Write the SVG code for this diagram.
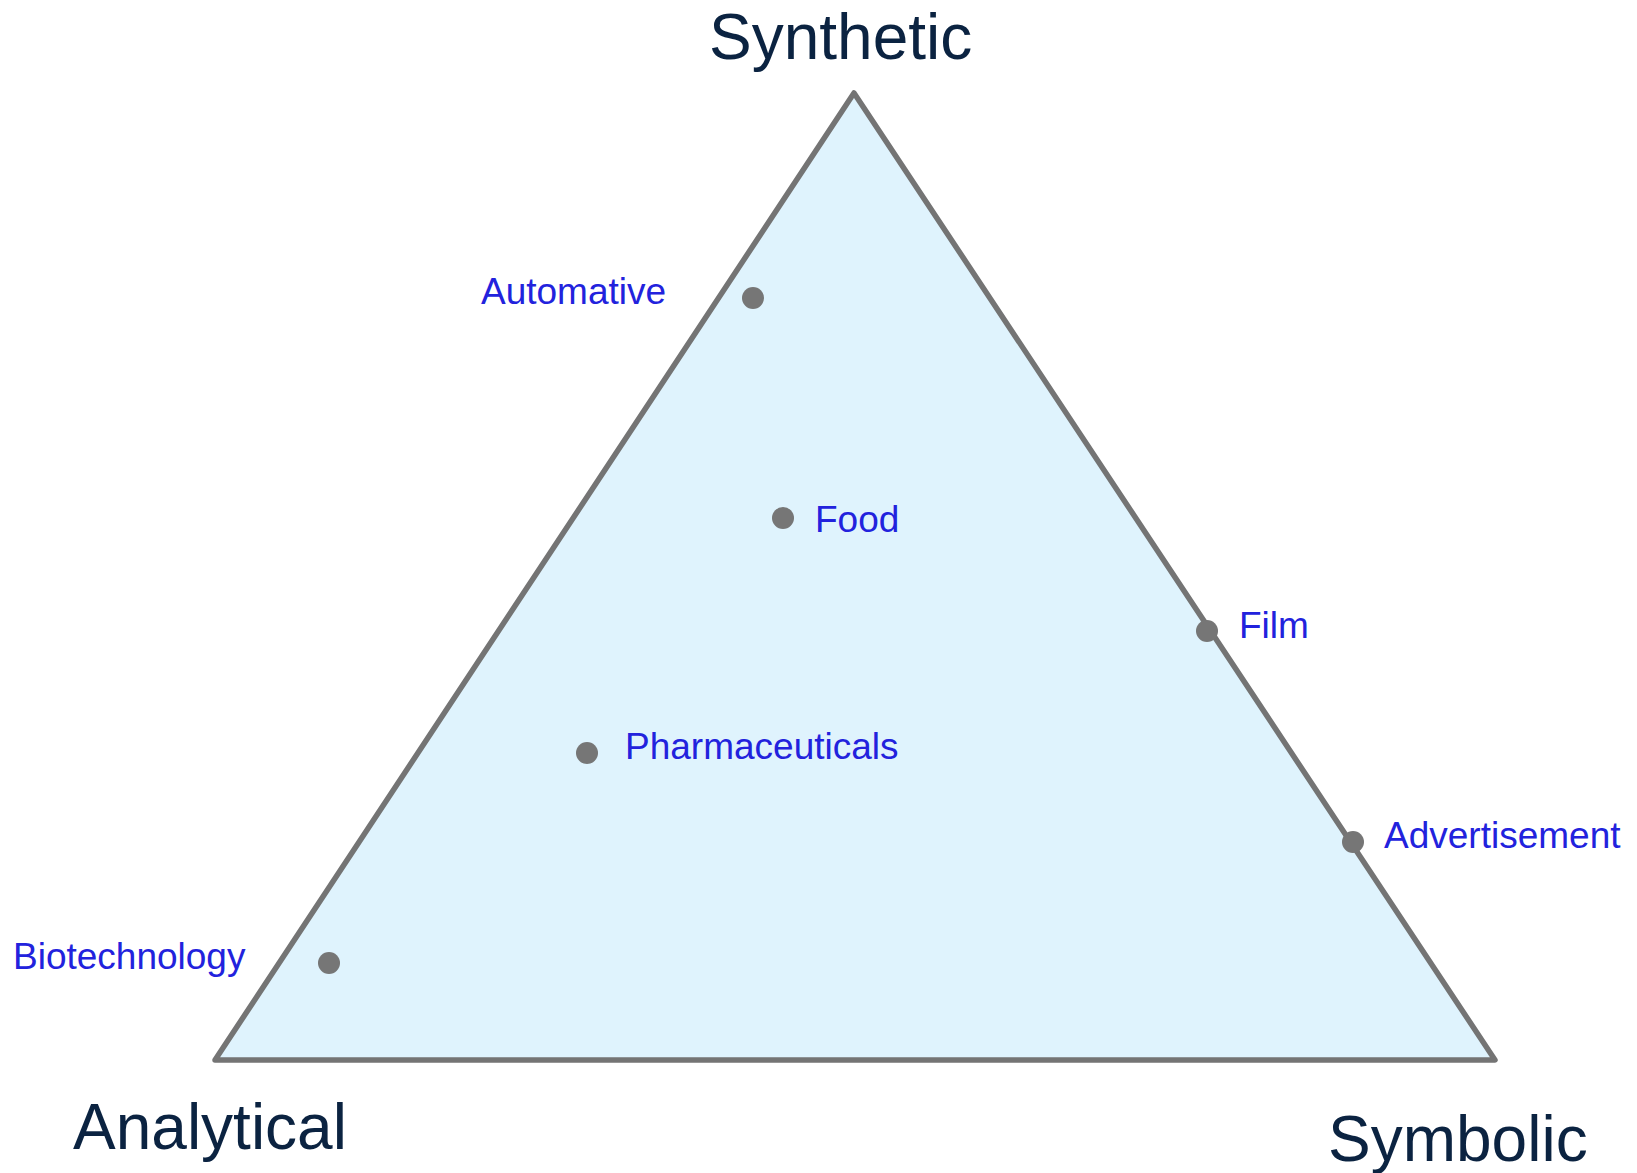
<svg xmlns="http://www.w3.org/2000/svg" width="1637" height="1173" viewBox="0 0 1637 1173">
<style>
.axis{font-family:"Liberation Sans",Arial,sans-serif;font-size:64px;fill:#0b2341}
.lbl{font-family:"Liberation Sans",Arial,sans-serif;font-size:37px;fill:#2222dd}
.dot{fill:#767676}
</style>
<rect width="1637" height="1173" fill="#ffffff"/>
<g id="connectors">
<polygon id="triangle" points="854,93 1495,1060 215,1060" fill="#dff3fd" stroke="#747474" stroke-width="5.5" stroke-linejoin="round"/>
</g>
<g id="synthetic"><text class="axis" x="709" y="59">Synthetic</text></g>
<g id="analytical"><text class="axis" x="73" y="1149">Analytical</text></g>
<g id="symbolic"><text class="axis" x="1328" y="1161">Symbolic</text></g>
<g id="automative"><circle class="dot" cx="753" cy="298" r="11"/><text class="lbl" x="481" y="304">Automative</text></g>
<g id="food"><circle class="dot" cx="783" cy="518" r="11"/><text class="lbl" x="815" y="532">Food</text></g>
<g id="film"><circle class="dot" cx="1207" cy="631" r="11"/><text class="lbl" x="1239" y="638">Film</text></g>
<g id="pharmaceuticals"><circle class="dot" cx="587" cy="753" r="11"/><text class="lbl" x="625" y="759">Pharmaceuticals</text></g>
<g id="advertisement"><circle class="dot" cx="1353" cy="842" r="11"/><text class="lbl" x="1384" y="848">Advertisement</text></g>
<g id="biotechnology"><circle class="dot" cx="329" cy="963" r="11"/><text class="lbl" x="13" y="969">Biotechnology</text></g>
</svg>
